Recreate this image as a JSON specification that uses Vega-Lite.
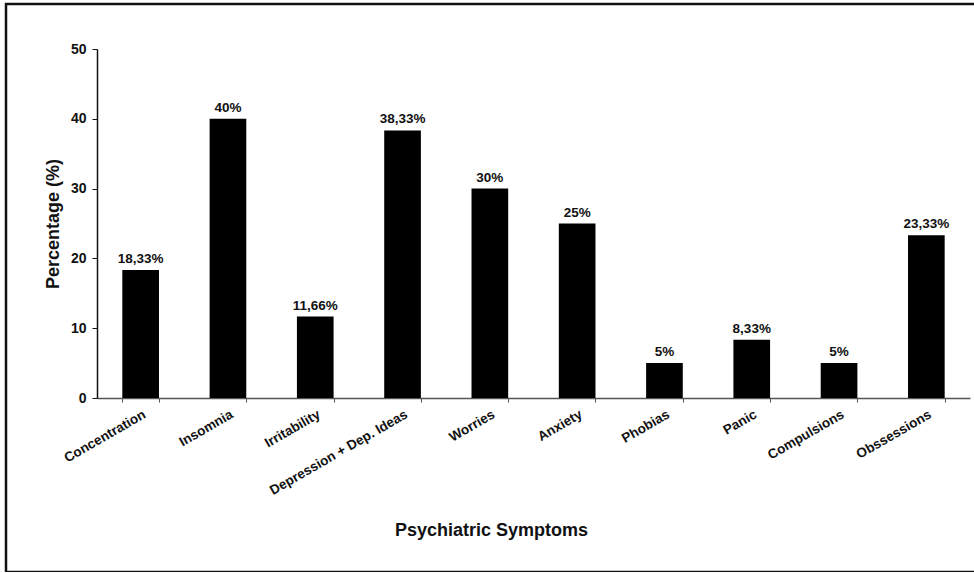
{
  "$schema": "https://vega.github.io/schema/vega-lite/v6.json",
  "autosize": "none",
  "padding": {"left": 6, "top": 4, "right": 0, "bottom": 0},
  "width": 970,
  "height": 568,
  "background": "white",
  "config": {
    "view": {"stroke": "#111", "strokeWidth": 2.5},
    "font": "Liberation Sans",
    "axis": {"labelFont": "Liberation Sans", "titleFont": "Liberation Sans", "labelColor": "#111", "titleColor": "#111", "domainColor": "#555", "tickColor": "#555", "grid": false}
  },
  "data": {
    "values": [
      {"symptom": "Concentration", "pct": 18.33, "label": "18,33%"},
      {"symptom": "Insomnia", "pct": 40, "label": "40%"},
      {"symptom": "Irritability", "pct": 11.66, "label": "11,66%"},
      {"symptom": "Depression + Dep. Ideas", "pct": 38.33, "label": "38,33%"},
      {"symptom": "Worries", "pct": 30, "label": "30%"},
      {"symptom": "Anxiety", "pct": 25, "label": "25%"},
      {"symptom": "Phobias", "pct": 5, "label": "5%"},
      {"symptom": "Panic", "pct": 8.33, "label": "8,33%"},
      {"symptom": "Compulsions", "pct": 5, "label": "5%"},
      {"symptom": "Obssessions", "pct": 23.33, "label": "23,33%"}
    ]
  },
  "encoding": {
    "x": {
      "field": "symptom", "type": "nominal", "sort": null,
      "scale": {"range": [91, 964], "paddingInner": 0.58, "paddingOuter": 0.29},
      "axis": {
        "title": "Psychiatric Symptoms", "titleFontSize": 18, "titleFontWeight": "bold", "titlePadding": 25, "titleX": 485,
        "labelAngle": -30, "labelFontSize": 13.5, "labelFontWeight": "bold", "labelPadding": 5,
        "offset": -174, "tickBand": "extent", "tickSize": 4, "domainWidth": 1.5
      }
    },
    "y": {
      "field": "pct", "type": "quantitative",
      "scale": {"domain": [0, 50], "range": [394, 45], "nice": false},
      "axis": {
        "title": "Percentage (%)", "titleFontSize": 18, "titleFontWeight": "bold", "titlePadding": 8,
        "values": [0, 10, 20, 30, 40, 50], "labelFontSize": 14, "labelFontWeight": "bold", "labelPadding": 6,
        "offset": -91, "tickSize": 5, "domainWidth": 1.5, "domainColor": "#111", "tickColor": "#111"
      }
    }
  },
  "layer": [
    {"mark": {"type": "bar", "color": "#000"}},
    {"mark": {"type": "text", "dy": -11, "fontSize": 13.5, "fontWeight": "bold", "color": "#111"}, "encoding": {"text": {"field": "label"}}}
  ]
}
